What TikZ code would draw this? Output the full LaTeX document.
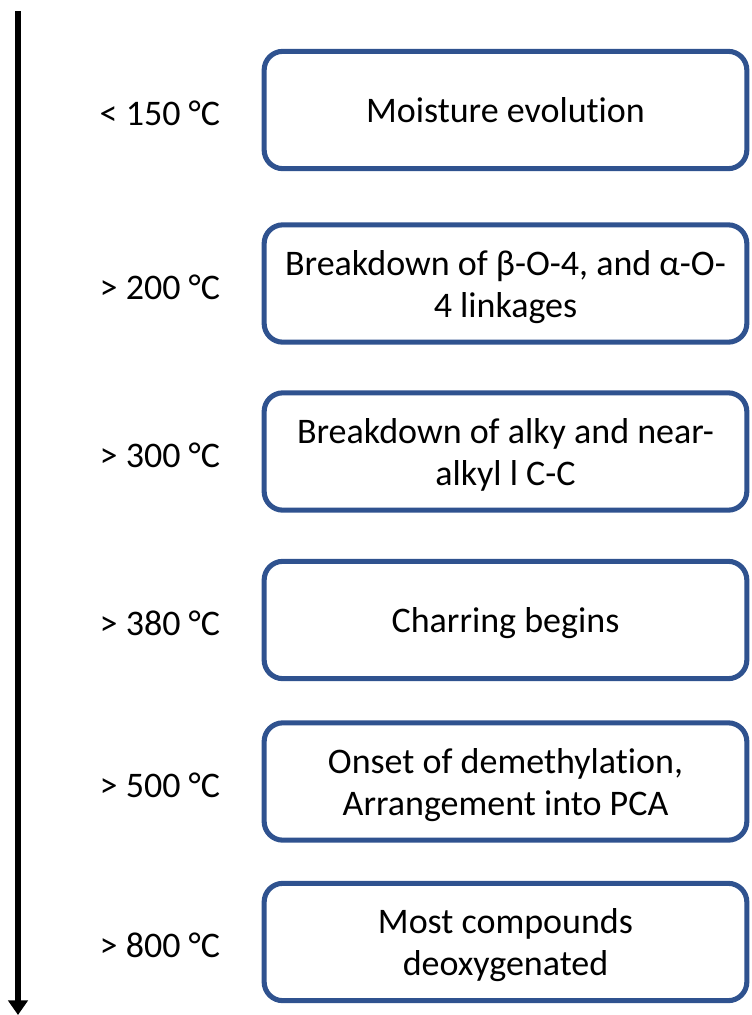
\documentclass[tikz,border=0pt]{standalone}
\usepackage{fontspec}
\setmainfont{Carlito}[Ligatures=NoCommon]
\usetikzlibrary{arrows.meta,positioning}
\definecolor{boxblue}{RGB}{47,82,143}

\begin{document}
\begin{tikzpicture}[x=0.75pt,y=-0.75pt,>={Triangle[length=11pt,width=14.5pt]},node distance=31pt,align=center,
		stage/.style={draw=boxblue,line width=3.8pt,rounded corners=14pt,fill=white,minimum width=362pt,minimum height=88pt,text depth=0pt,font=\fontsize{27}{31.5}\selectfont},
		temp/.style={inner sep=0pt,yshift=-2.5pt,font=\fontsize{27}{31.5}\selectfont}]
		\useasboundingbox (0,0) rectangle (751,1015);
		\node[stage] (s_1) at (505.5,110) {Moisture evolution};
		\node[stage] (s_2) at (505.5,283.5) {Breakdown of β-O-4, and α-O-\\4 linkages};
		\node[stage] (s_3) at (505.5,451.5) {Breakdown of alky and near-\\alkyl l C-C};
		\node[stage] (s_4) at (505.5,620) {Charring begins};
		\node[stage] (s_5) at (505.5,781.5) {Onset of demethylation,\\Arrangement into PCA};
		\node[stage] (s_6) at (505.5,942) {Most compounds\\deoxygenated};
		\node[temp] [left=of s_1] (t_1) {< 150 °C};
		\node[temp] [left=of s_2] (t_2) {> 200 °C};
		\node[temp] [left=of s_3] (t_3) {> 300 °C};
		\node[temp] [left=of s_4] (t_4) {> 380 °C};
		\node[temp] [left=of s_5] (t_5) {> 500 °C};
		\node[temp] [left=of s_6] (t_6) {> 800 °C};
		\coordinate (start) at (18,11);
		\coordinate (finish) at (18,1015);
		\draw[->,line width=4.5pt] (start) -- (finish);
	\end{tikzpicture}
\end{document}
